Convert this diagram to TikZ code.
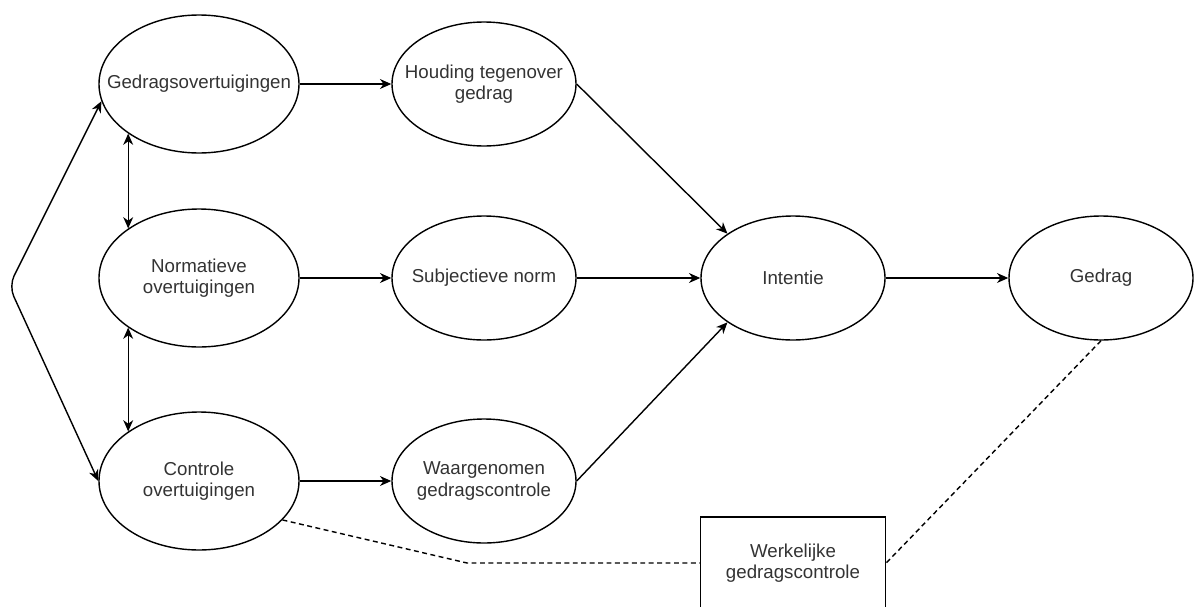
\documentclass[tikz,border=0pt]{standalone}
\usepackage{fontspec}
\setmainfont{Liberation Sans}
\usetikzlibrary{positioning}
\usetikzlibrary{shapes.geometric}
\usetikzlibrary{arrows.meta}
\tikzset{bel/.style={draw,ellipse,inner sep=0pt,minimum width=5cm,minimum height=3.45cm}}
\tikzset{mel/.style={draw,ellipse,inner sep=0pt,minimum width=4.6cm,minimum height=3.1cm}}
\tikzset{wbox/.style={draw,rectangle,align=center,minimum width=4.625cm,minimum height=2.3cm}}
\tikzset{every label/.style={align=center,text=black!80}}
\tikzset{dsh/.style={dash pattern=on 3.5pt off 2.5pt}}
\tikzset{>={Stealth[length=8pt,width=7pt,inset=2.5pt]}}

\begin{document}
\begin{tikzpicture}[line width=1pt,font=\fontsize{13.3}{15.3}\selectfont]
\useasboundingbox (-4.975,-13.05) rectangle (24.875,2.1);
\begin{scope}[on grid]
\node[bel,label=center:Gedragsovertuigingen] (Gb) at (0, 0) {};
\node[bel,label={center:Normatieve\\overtuigingen}] (Nb) [below = 4.85 of Gb] {};
\node[bel,label={center:Controle\\overtuigingen}] (Cb) [below = 5.075 of Nb] {};
\node[mel,label={center:Houding tegenover\\gedrag}] (Hou) [right = 7.125 of Gb] {};
\node[mel,label=center:Subjectieve norm] (Sub) [right = 7.125 of Nb] {};
\node[mel,label={center:Waargenomen\\gedragscontrole}] (Waa) [right = 7.125 of Cb] {};
\node[mel,label=center:Intentie] (Int) [right = 7.725 of Sub] {};
\node[mel,label=center:Gedrag] (Ged) [right = 7.7 of Int] {};
\node[wbox,text=black!80] (Wer) [below = 7.125 of Int] {Werkelijke\\gedragscontrole};

\coordinate[below left = 0.2 and 4.75 of Nb] (bend);
\coordinate[left = 8.15 of Wer] (knik);

\draw[->] (Gb) -- (Hou);
\draw[->] (Nb) -- (Sub);
\draw[->] (Cb) -- (Waa);
\draw[->] (Hou.east) -- (Int.north west);
\draw[->] (Sub) -- (Int);
\draw[->] (Waa.east) -- (Int.south west);
\draw[->] (Int) -- (Ged);

\draw[<->] (Gb.215) -- (Nb.145);
\draw[<->] (Nb.215) -- (Cb.145);
\draw[<->,rounded corners=8pt] (Gb.190) -- (bend) -- (Cb.180);

\draw[dsh] (Cb.-25) -- (knik) -- (Wer.west);
\draw[dsh] (Ged.south) -- (Wer.east);
\end{scope}
\end{tikzpicture}
\end{document}
